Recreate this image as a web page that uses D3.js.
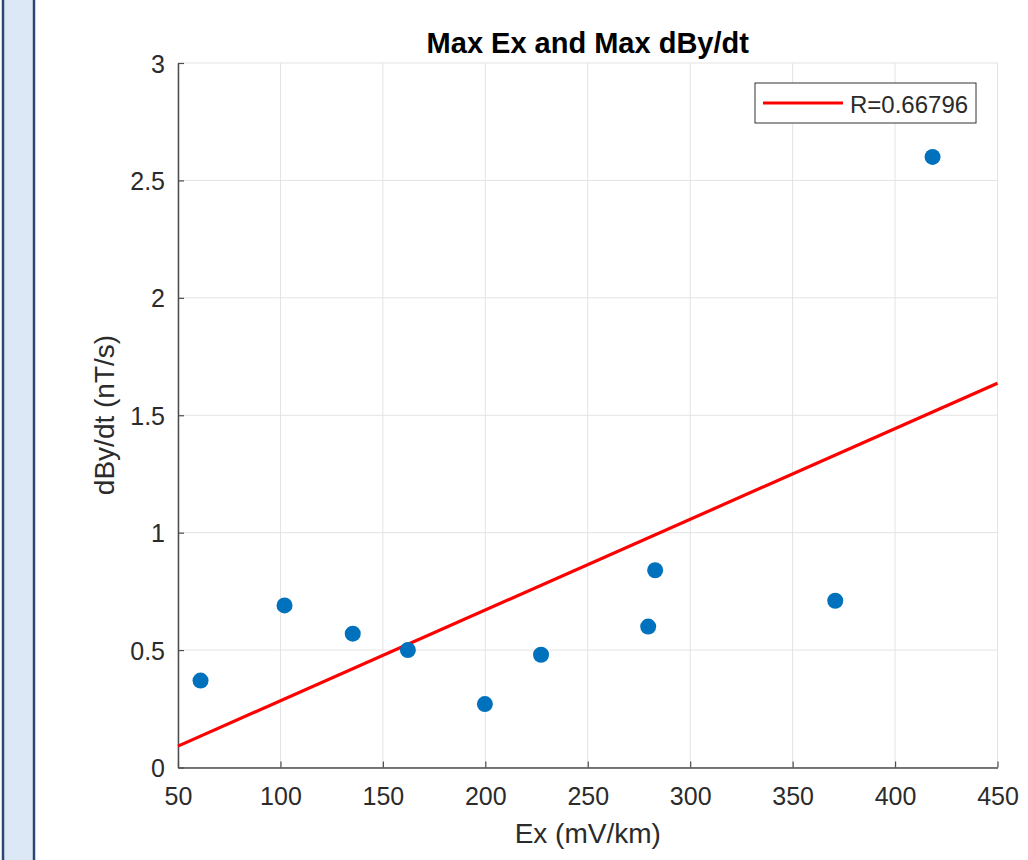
<!DOCTYPE html>
<head>
  <meta charset="utf-8">
  <script src="https://d3js.org/d3.v7.min.js"></script>
  <style type="text/css">
    * { font-family: "Liberation Sans", Arial, Helvetica, sans-serif }
    body { margin: 0; background: #fff; }
  </style>
</head>
<body>
<div id="my_dataviz"></div>
<script>

// data
var exValues = [61, 102, 135.3, 162.2, 199.8, 227.2, 279.5, 282.9, 370.8, 418.3];
var dbdtValues = [0.37, 0.69, 0.57, 0.50, 0.27, 0.48, 0.60, 0.84, 0.71, 2.60];
var xTicks = [50, 100, 150, 200, 250, 300, 350, 400, 450];
var yTicks = [0, 0.5, 1, 1.5, 2, 2.5, 3];
var legendLabel = "R=0.66796";

var W = 1028, H = 860;
var margin = {top: 63, right: 30, bottom: 92, left: 178};
var width = 997.5 - margin.left,
    height = 767.5 - margin.top;

var root = d3.select("#my_dataviz")
  .append("svg")
    .attr("width", W)
    .attr("height", H);

// left side panel
root.append("rect")
  .attr("x", 3).attr("y", -5)
  .attr("width", 31).attr("height", H + 10)
  .attr("fill", "#dde8f6")
  .attr("stroke", "#2c4773")
  .attr("stroke-width", 2.5);

var svg = root.append("g")
  .attr("transform", "translate(" + margin.left + "," + margin.top + ")");

var x = d3.scaleLinear().domain([50, 450]).range([0, width]);
var y = d3.scaleLinear().domain([0, 3]).range([height, 0]);

// grid
svg.append("g").selectAll("line").data(xTicks).enter().append("line")
  .attr("x1", d => x(d)).attr("x2", d => x(d))
  .attr("y1", 0).attr("y2", height)
  .attr("stroke", "#e3e3e3").attr("stroke-width", 1);
svg.append("g").selectAll("line").data(yTicks).enter().append("line")
  .attr("x1", 0).attr("x2", width)
  .attr("y1", d => y(d)).attr("y2", d => y(d))
  .attr("stroke", "#e3e3e3").attr("stroke-width", 1);

// axes
var xAxis = svg.append("g")
  .attr("transform", "translate(0," + height + ")")
  .call(d3.axisBottom(x).tickValues(xTicks).tickSizeInner(-6).tickSizeOuter(0));
var yAxis = svg.append("g")
  .call(d3.axisLeft(y).tickValues(yTicks).tickFormat(d3.format("")).tickSizeInner(-6).tickSizeOuter(0));

[xAxis, yAxis].forEach(function(a) {
  a.select(".domain").attr("stroke", "#4d4d4d").attr("stroke-width", 1.5);
  a.selectAll(".tick line").attr("stroke", "#4d4d4d").attr("stroke-width", 1.2);
  a.selectAll(".tick text").attr("fill", "#2b2b2b").style("font-size", "25px");
});
xAxis.selectAll(".tick text").attr("dy", null).attr("y", 37);
yAxis.selectAll(".tick text").attr("x", -13).attr("dy", "0.36em");

// linear fit
var mx = d3.mean(exValues), my = d3.mean(dbdtValues);
var sxy = d3.sum(exValues, (v, i) => (v - mx) * (dbdtValues[i] - my));
var sxx = d3.sum(exValues, v => (v - mx) * (v - mx));
var slope = sxy / sxx, intercept = my - slope * mx;

svg.append("line")
  .attr("x1", x(50)).attr("y1", y(intercept + slope * 50))
  .attr("x2", x(450)).attr("y2", y(intercept + slope * 450))
  .attr("stroke", "#ff0000").attr("stroke-width", 3.2);

// points
svg.selectAll("circle").data(exValues).enter().append("circle")
  .attr("cx", d => x(d))
  .attr("cy", (d, i) => y(dbdtValues[i]))
  .attr("r", 8)
  .attr("fill", "#0072bd");

// title
svg.append("text")
  .attr("x", width / 2).attr("y", -10)
  .attr("text-anchor", "middle")
  .style("font-size", "29px").style("font-weight", "bold")
  .attr("fill", "#000")
  .text("Max Ex and Max dBy/dt");

// axis labels
svg.append("text")
  .attr("x", width / 2).attr("y", height + 75)
  .attr("text-anchor", "middle")
  .style("font-size", "28px").attr("fill", "#2b2b2b")
  .text("Ex (mV/km)");
svg.append("text")
  .attr("transform", "translate(" + (114 - margin.left) + "," + (415 - margin.top) + ") rotate(-90)")
  .attr("text-anchor", "middle")
  .style("font-size", "28px").attr("fill", "#2b2b2b")
  .text("dBy/dt (nT/s)");

// legend
var lg = svg.append("g").attr("transform", "translate(" + (755 - margin.left) + "," + (83 - margin.top) + ")");
lg.append("rect").attr("width", 221).attr("height", 40)
  .attr("fill", "#fff").attr("stroke", "#333").attr("stroke-width", 1);
lg.append("line").attr("x1", 8).attr("x2", 88).attr("y1", 20).attr("y2", 20)
  .attr("stroke", "#ff0000").attr("stroke-width", 3.2);
lg.append("text").attr("x", 95).attr("y", 30)
  .style("font-size", "24px").attr("fill", "#2b2b2b")
  .text(legendLabel);

</script>
</body>
</html>
